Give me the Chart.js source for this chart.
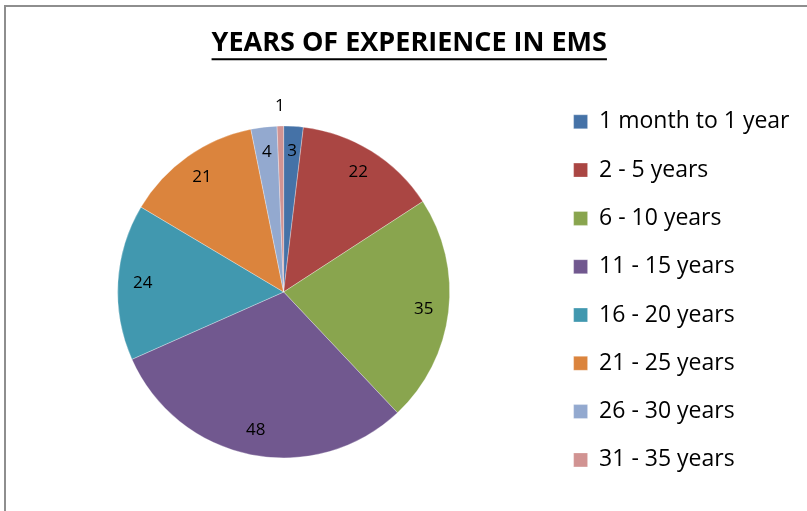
<!DOCTYPE html>
<html>
<head>
<meta charset="utf-8">
<script src="https://cdn.jsdelivr.net/npm/chart.js@4.4.1/dist/chart.umd.min.js"></script>
<style>
html,body{margin:0;padding:0;background:#fff;overflow:hidden;}
#frame{position:absolute;left:4px;top:5px;width:820px;height:520px;border-left:2px solid #8e8e8e;border-top:2px solid #8e8e8e;}
#wrap{position:absolute;left:0;top:0;width:807px;height:511px;}
</style>
</head>
<body>
<div id="frame"></div>
<div id="wrap"><canvas id="grafico"></canvas></div>
<script>
// data
const categorias = ['1 month to 1 year','2 - 5 years','6 - 10 years','11 - 15 years','16 - 20 years','21 - 25 years','26 - 30 years','31 - 35 years'];
const valores = [3, 22, 35, 48, 24, 21, 4, 1];
const colores = ['#4572A7','#AA4643','#89A54E','#71588F','#4198AF','#DB843D','#93A9CF','#D19392'];
const titulo = 'YEARS OF EXPERIENCE IN EMS';

const fuente = "'Open Sans', sans-serif";

// numbers on the slices, small ones go outside
const etiquetas = {
  id: 'etiquetas',
  afterDatasetsDraw(chart){
    const ctx = chart.ctx;
    const meta = chart.getDatasetMeta(0);
    const total = valores.reduce((a,b)=>a+b,0);
    ctx.save();
    ctx.font = '17px ' + fuente;
    ctx.fillStyle = '#000';
    ctx.textAlign = 'center';
    ctx.textBaseline = 'middle';
    meta.data.forEach((arc,i)=>{
      const p = arc.getProps(['x','y','startAngle','endAngle','outerRadius'], true);
      const mid = (p.startAngle + p.endAngle)/2;
      let r = p.outerRadius*0.85;
      if (valores[i]/total < 0.015) r = p.outerRadius + 20;
      ctx.fillText(String(valores[i]), p.x + Math.cos(mid)*r, p.y + Math.sin(mid)*r);
    });
    ctx.restore();
  }
};

// underline under the title
const subrayado = {
  id: 'subrayado',
  afterDraw(chart){
    const t = chart.titleBlock;
    if(!t) return;
    const ctx = chart.ctx;
    ctx.save();
    ctx.font = 'bold 27px ' + fuente;
    const w = ctx.measureText(titulo).width;
    const cx = (t.left + t.right)/2;
    const y = t.top + t.options.padding.top + 32;
    ctx.strokeStyle = '#000';
    ctx.lineWidth = 2;
    ctx.beginPath();
    ctx.moveTo(cx - w/2, y);
    ctx.lineTo(cx + w/2, y);
    ctx.stroke();
    ctx.restore();
  }
};

const ctx = document.getElementById('grafico');

new Chart(ctx,{
  type:'pie',
  data:{
    labels: categorias,
    datasets:[{
      data: valores,
      backgroundColor: colores,
      borderColor: 'rgba(255,255,255,0.6)',
      borderWidth: 0.5
    }]
  },
  options:{
    responsive:true,
    maintainAspectRatio:false,
    animation:false,
    radius:166,
    layout:{padding:{left:19,right:7.5,top:0,bottom:12}},
    plugins:{
      title:{
        display:true,
        text: titulo,
        color:'#000',
        font:{family:fuente,size:27,weight:'bold'},
        padding:{top:27.3,bottom:25.3}
      },
      legend:{
        position:'right',
        align:'start',
        fullSize:false,
        labels:{
          color:'#000',
          font:{family:fuente,size:23},
          boxWidth:14,
          boxHeight:14,
          padding:25.3
        }
      },
      tooltip:{enabled:false}
    }
  },
  plugins:[etiquetas, subrayado]
});
</script>
</body>
</html>
